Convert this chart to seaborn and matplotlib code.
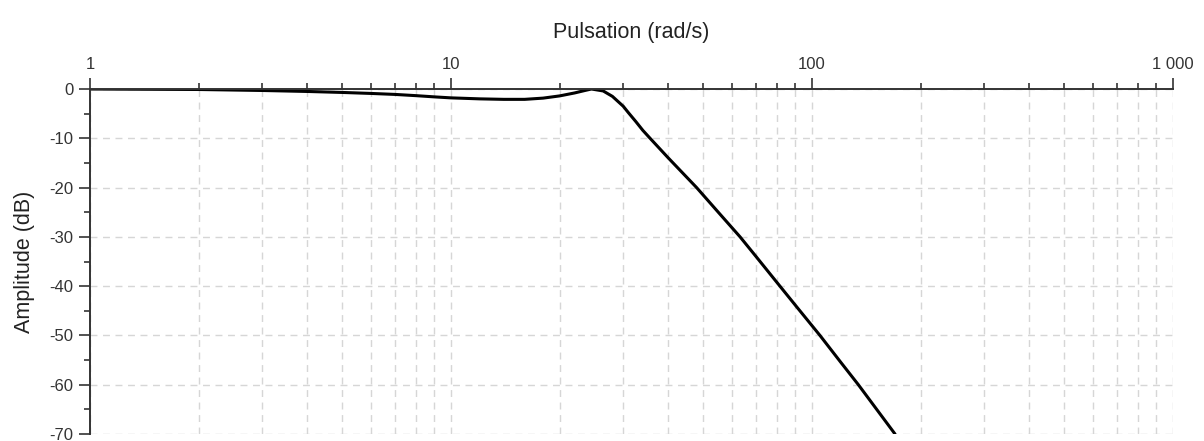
import numpy as np
import pandas as pd
import matplotlib
matplotlib.use("Agg")
import matplotlib.pyplot as plt
import matplotlib.ticker as mticker
import seaborn as sns

# values
pulsation = [1, 2, 3, 4, 5, 6, 7, 8, 9, 10, 12, 14, 16, 18, 20, 22, 23.5,
             24.5, 26.4, 28, 30, 31, 32.5, 34, 35.6, 40, 47.9, 55, 63.2, 70,
             81.5, 90, 105.2, 120, 134.4, 150, 169.8]
amplitude = [0, -0.1, -0.3, -0.5, -0.7, -0.9, -1.1, -1.35, -1.6, -1.8, -2.0,
             -2.1, -2.1, -1.85, -1.4, -0.8, -0.3,
             0, -0.4, -1.5, -3.5, -4.8, -6.6, -8.4, -10, -14.0, -20, -25.0,
             -30, -34.0, -40, -43.9, -50, -55.4, -60, -64.7, -70]

x_ticks = [1, 10, 100, 1000]
x_labels = ["1", "10", "100", "1 000"]
y_ticks = [0, -10, -20, -30, -40, -50, -60, -70]

df = pd.DataFrame({"w": pulsation, "dB": amplitude})

sns.set_theme(style="white")
plt.rcParams["font.family"] = ["Liberation Sans", "DejaVu Sans"]
plt.rcParams["axes.unicode_minus"] = False

fig = plt.figure(figsize=(12.04, 4.41), dpi=100)
ax = fig.add_axes([90 / 1204, 7 / 441, 1083 / 1204, 345 / 441])

sns.lineplot(data=df, x="w", y="dB", ax=ax, color="black", lw=2.2,
             sort=False)

ax.set_xscale("log")
ax.set_xlim(1, 1000)
ax.set_ylim(-70, 0)

ax.xaxis.set_ticks_position("top")
ax.xaxis.set_label_position("top")
ax.set_xticks(x_ticks)
ax.set_xticklabels(x_labels)
ax.xaxis.set_minor_locator(mticker.LogLocator(base=10, subs=np.arange(2, 10)))
ax.xaxis.set_minor_formatter(mticker.NullFormatter())
ax.set_yticks(y_ticks)
ax.yaxis.set_minor_locator(mticker.MultipleLocator(5))

ax.tick_params(axis="both", which="major", length=8, width=1.2,
               color="#333333", labelsize=12, labelcolor="#333333", pad=4)
ax.tick_params(axis="both", which="minor", length=4, width=1.2,
               color="#333333")
ax.tick_params(axis="x", which="both", top=True, bottom=False)
ax.tick_params(axis="y", which="both", left=True, right=False)

grid_kw = dict(color="#d6d6d6", linestyle=(0, (5, 4)), linewidth=1)
ax.grid(True, axis="x", which="both", **grid_kw)
ax.grid(True, axis="y", which="major", **grid_kw)

for side in ["right", "bottom"]:
    ax.spines[side].set_visible(False)
for side in ["left", "top"]:
    ax.spines[side].set_color("#333333")
    ax.spines[side].set_linewidth(1.4)

ax.set_xlabel("Pulsation (rad/s)", fontsize=15.5, color="#222222", labelpad=14)
ax.set_ylabel("Amplitude (dB)", fontsize=15.5, color="#222222", labelpad=10)

fig.savefig("out.png", dpi=100)
